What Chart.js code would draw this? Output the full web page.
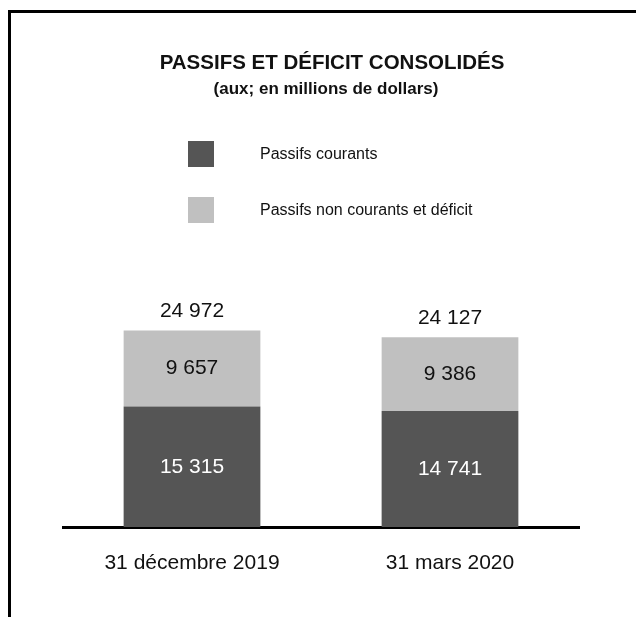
<!DOCTYPE html>
<html>
<head>
<meta charset="utf-8">
<title>Passifs et déficit consolidés</title>
<script src="https://cdn.jsdelivr.net/npm/chart.js@4/dist/chart.umd.min.js"></script>
<style>
    html, body { margin: 0; padding: 0; background: #ffffff; }
    #chartBox { width: 636px; height: 617px; }
</style>
</head>
<body>
<div id="chartBox"><canvas id="bilanChart"></canvas></div>
<script>
// data (millions de dollars)
var categories = ['31 décembre 2019', '31 mars 2020'];
var passifsCourants = [15315, 14741];
var passifsNonCourants = [9657, 9386];
var seriesLabels = ['Passifs courants', 'Passifs non courants et déficit'];

var titleText = 'PASSIFS ET DÉFICIT CONSOLIDÉS';
var subtitleText = '(aux; en millions de dollars)';

var darkGrey = '#555555';
var lightGrey = '#c0c0c0';
var fontName = '"Liberation Sans", Arial, sans-serif';

function FormatNombre(n) {
    // french thousands separator, plain space
    return String(n).replace(/\B(?=(\d{3})+(?!\d))/g, ' ');
}

// frame, titles, legend and value labels
var decorPlugin = {
    id: 'decor',
    beforeDraw: function (chart) {
        var ctx = chart.ctx;
        ctx.save();
        ctx.fillStyle = '#ffffff';
        ctx.fillRect(0, 0, chart.width, chart.height);

        // cropped frame: only top and left edges show
        ctx.strokeStyle = '#000000';
        ctx.lineWidth = 3;
        ctx.beginPath();
        ctx.moveTo(9.5, chart.height);
        ctx.lineTo(9.5, 11.5);
        ctx.lineTo(chart.width, 11.5);
        ctx.stroke();

        ctx.fillStyle = '#111111';
        ctx.textAlign = 'center';
        ctx.textBaseline = 'middle';
        ctx.font = 'bold 20.5px ' + fontName;
        ctx.fillText(titleText, 332, 63);
        ctx.font = 'bold 17px ' + fontName;
        ctx.fillText(subtitleText, 326, 89);

        // legend
        var sets = chart.data.datasets;
        ctx.textAlign = 'left';
        ctx.font = '16px ' + fontName;
        for (var i = 0; i < sets.length; i++) {
            var top = 141 + i * 56;
            ctx.fillStyle = sets[i].backgroundColor;
            ctx.fillRect(188, top, 26, 26);
            ctx.fillStyle = '#111111';
            ctx.fillText(sets[i].label, 260, top + 14);
        }
        ctx.restore();
    },
    afterDatasetsDraw: function (chart) {
        var ctx = chart.ctx;
        ctx.save();
        ctx.textAlign = 'center';
        ctx.textBaseline = 'middle';
        ctx.font = '21px ' + fontName;

        chart.data.datasets.forEach(function (ds, di) {
            var meta = chart.getDatasetMeta(di);
            meta.data.forEach(function (bar, i) {
                var mid = (bar.y + bar.base) / 2;
                ctx.fillStyle = di === 0 ? '#ffffff' : '#111111';
                ctx.fillText(FormatNombre(ds.data[i]), bar.x, mid);
            });
        });

        // totals above each stack
        var topMeta = chart.getDatasetMeta(chart.data.datasets.length - 1);
        topMeta.data.forEach(function (bar, i) {
            var total = passifsCourants[i] + passifsNonCourants[i];
            ctx.fillStyle = '#111111';
            ctx.fillText(FormatNombre(total), bar.x, bar.y - 19);
        });
        ctx.restore();
    }
};

var chartInstance = new Chart(document.getElementById('bilanChart').getContext('2d'), {
    type: 'bar',
    data: {
        labels: categories,
        datasets: [
            {
                label: seriesLabels[0],
                data: passifsCourants,
                backgroundColor: darkGrey,
                borderWidth: 0
            },
            {
                label: seriesLabels[1],
                data: passifsNonCourants,
                backgroundColor: lightGrey,
                borderWidth: 0
            }
        ]
    },
    options: {
        responsive: true,
        maintainAspectRatio: false,
        animation: false,
        layout: {
            padding: { top: 291, left: 63, right: 57, bottom: 25 }
        },
        datasets: {
            bar: {
                categoryPercentage: 1,
                barPercentage: 0.53
            }
        },
        plugins: {
            legend: { display: false },
            title: { display: false },
            tooltip: { enabled: false }
        },
        scales: {
            x: {
                stacked: true,
                grid: { display: false },
                border: { display: true, color: '#000000', width: 3 },
                ticks: {
                    color: '#111111',
                    padding: 16,
                    font: { family: fontName, size: 21 }
                },
                afterFit: function (scale) {
                    scale.height = 65;
                }
            },
            y: {
                stacked: true,
                display: false,
                min: 0,
                max: 30000
            }
        }
    },
    plugins: [decorPlugin]
});
</script>
</body>
</html>
